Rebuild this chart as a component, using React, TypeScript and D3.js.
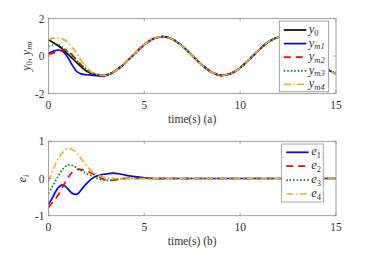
import React from 'react';
import * as d3 from 'd3';

// time samples: 0.25 s steps through the transient, 0.5 s steps after
const tHead = [0, 0.25, 0.5, 0.75, 1, 1.25, 1.5, 1.75, 2, 2.25, 2.5, 2.75, 3, 3.25, 3.5, 3.75, 4];
const tTail = [4.5, 5, 5.5, 6, 6.5, 7, 7.5, 8, 8.5, 9, 9.5, 10, 10.5, 11, 11.5, 12, 12.5, 13, 13.5, 14, 14.5, 15];

// (a) outputs
const y0Head = [0.87, 0.72, 0.56, 0.35, 0.12, -0.13, -0.38, -0.62, -0.82, -0.94, -1.0, -1.03, -1.02, -0.93, -0.79, -0.6, -0.38];
const ym1Head = [0.15, 0.25, 0.32, 0.25, -0.05, -0.5, -0.85, -0.97, -1.0, -1.02, -1.05, -1.06, -1.03, -0.94, -0.79, -0.6, -0.38];
const ym2Head = [0.1, 0.15, 0.22, 0.3, 0.3, 0.05, -0.25, -0.52, -0.75, -0.9, -0.98, -1.03, -1.03, -0.93, -0.79, -0.6, -0.38];
const ym3Head = [0.5, 0.6, 0.6, 0.45, 0.25, 0.02, -0.25, -0.5, -0.72, -0.88, -0.97, -1.02, -1.02, -0.93, -0.79, -0.6, -0.38];
const ym4Head = [0.87, 0.95, 0.97, 0.9, 0.75, 0.45, 0.1, -0.3, -0.62, -0.85, -0.97, -1.02, -1.02, -0.93, -0.79, -0.6, -0.38];
const yTail = [0.12, 0.6, 0.93, 1.03, 0.88, 0.51, 0.02, -0.47, -0.85, -1.03, -0.94, -0.63, -0.16, 0.34, 0.77, 1.0, 1.0, 0.73, 0.3, -0.2, -0.66, -0.96];

// (b) errors
const e1Head = [-0.7, -0.48, -0.25, -0.17, -0.27, -0.4, -0.42, -0.28, -0.13, -0.01, 0.06, 0.1, 0.12, 0.14, 0.14, 0.12, 0.09];
const e2Head = [-0.78, -0.62, -0.45, -0.22, 0.0, 0.17, 0.24, 0.24, 0.2, 0.14, 0.07, 0.01, -0.04, -0.05, -0.04, -0.01, 0.0];
const e3Head = [-0.4, -0.18, 0.05, 0.25, 0.36, 0.35, 0.28, 0.2, 0.13, 0.07, 0.01, -0.03, -0.05, -0.05, -0.03, -0.01, 0.0];
const e4Head = [-0.08, 0.25, 0.52, 0.7, 0.8, 0.78, 0.68, 0.5, 0.34, 0.2, 0.11, 0.05, 0.02, 0.0, 0.0, 0.0, 0.0];
const e1Tail = [0.05, 0.02, 0.0, 0, 0, 0, 0, 0, 0, 0, 0, 0, 0, 0, 0, 0, 0, 0, 0, 0, 0, 0];
const eTail = [0, 0, 0, 0, 0, 0, 0, 0, 0, 0, 0, 0, 0, 0, 0, 0, 0, 0, 0, 0, 0, 0];

const xTicks = [0, 5, 10, 15];
const yTicksA = [-2, 0, 2];
const yTicksB = [-1, 0, 1];

const times = [...tHead, ...tTail];

type Series = { name: string; sub: string; values: number[]; color: string; dash: string };

const seriesA: Series[] = [
  { name: 'y', sub: '0', values: [...y0Head, ...yTail], color: '#000000', dash: '' },
  { name: 'y', sub: 'm1', values: [...ym1Head, ...yTail], color: '#0000ff', dash: '' },
  { name: 'y', sub: 'm2', values: [...ym2Head, ...yTail], color: '#ff0000', dash: '7,5' },
  { name: 'y', sub: 'm3', values: [...ym3Head, ...yTail], color: '#008000', dash: '1.5,2' },
  { name: 'y', sub: 'm4', values: [...ym4Head, ...yTail], color: '#EDB120', dash: '7,2.5,1.5,2.5' },
];

const seriesB: Series[] = [
  { name: 'e', sub: '1', values: [...e1Head, ...e1Tail], color: '#0000ff', dash: '' },
  { name: 'e', sub: '2', values: [...e2Head, ...eTail], color: '#ff0000', dash: '7,5' },
  { name: 'e', sub: '3', values: [...e3Head, ...eTail], color: '#008000', dash: '1.5,2' },
  { name: 'e', sub: '4', values: [...e4Head, ...eTail], color: '#EDB120', dash: '7,2.5,1.5,2.5' },
];

const FONT = "'Liberation Serif', serif";
const left = 48.4;
const right = 336;

const Panel = ({ id, top, bottom, yDomain, yTicks, series, xlabel, ylabel, ylabelX, legend }: any) => {
  const x = d3.scaleLinear().domain([0, 15]).range([left, right]);
  const y = d3.scaleLinear().domain(yDomain).range([bottom, top]);
  const line = d3.line<number>()
    .x((_, i) => x(times[i]))
    .y(d => y(d))
    .curve(d3.curveCatmullRom);

  const lg = legend;
  return (
    <g>
      <defs>
        <clipPath id={id}>
          <rect x={left} y={top} width={right - left} height={bottom - top} />
        </clipPath>
      </defs>
      <rect x={left} y={top} width={right - left} height={bottom - top} fill="#fff" />
      <g clipPath={`url(#${id})`}>
        {series.map((s: Series) => (
          <path key={s.sub} d={line(s.values) || ''} fill="none" stroke={s.color}
            strokeWidth={1.7} strokeDasharray={s.dash || undefined} />
        ))}
      </g>
      <rect x={left} y={top} width={right - left} height={bottom - top} fill="none" stroke="#8c8c8c" strokeWidth={0.8} />
      {xTicks.map(t => (
        <g key={'x' + t}>
          <line x1={x(t)} x2={x(t)} y1={bottom} y2={bottom - 3} stroke="#8c8c8c" strokeWidth={0.8} />
          <line x1={x(t)} x2={x(t)} y1={top} y2={top + 3} stroke="#8c8c8c" strokeWidth={0.8} />
          <text x={x(t)} y={bottom + 15.5} textAnchor="middle" fontSize={11.5} fill="#333">{t}</text>
        </g>
      ))}
      {yTicks.map((t: number) => (
        <g key={'y' + t}>
          <line x1={left} x2={left + 3} y1={y(t)} y2={y(t)} stroke="#8c8c8c" strokeWidth={0.8} />
          <line x1={right} x2={right - 3} y1={y(t)} y2={y(t)} stroke="#8c8c8c" strokeWidth={0.8} />
          <text x={left - 4} y={y(t) + 4} textAnchor="end" fontSize={11.5} fill="#333">{t < 0 ? '-' + Math.abs(t) : t}</text>
        </g>
      ))}
      <text x={(left + right) / 2} y={bottom + 29} textAnchor="middle" fontSize={11.5} fill="#333">{xlabel}</text>
      <g transform={`translate(${ylabelX},${(top + bottom) / 2}) rotate(-90)`}>
        <text textAnchor="middle" fontSize={12} fill="#333">{ylabel}</text>
      </g>
      <rect x={lg.x} y={lg.y} width={lg.w} height={lg.h} fill="#fff" stroke="#8c8c8c" strokeWidth={0.8} />
      {series.map((s: Series, i: number) => {
        const cy = lg.y + lg.first + i * lg.step;
        return (
          <g key={'l' + s.sub}>
            <line x1={lg.x + 4.5} x2={lg.x + 27} y1={cy} y2={cy} stroke={s.color} strokeWidth={1.7}
              strokeDasharray={s.dash || undefined} />
            <text x={lg.x + 29.5} y={cy + 3} fontSize={12.5} fill="#333">
              <tspan fontStyle="italic">{s.name}</tspan>
              <tspan fontSize={8.5} dy={2.5} fontStyle={s.sub[0] === 'm' ? 'italic' : 'normal'}>{s.sub}</tspan>
            </text>
          </g>
        );
      })}
    </g>
  );
};

export default function App() {
  return (
    <svg width={372} height={257} style={{ position: 'absolute', left: 0, top: 0, fontFamily: FONT }}>
      <rect width={372} height={257} fill="#fff" />
      <Panel id="clipA" top={18.5} bottom={93.5} yDomain={[-2, 2]} yTicks={yTicksA} series={seriesA}
        xlabel="time(s)  (a)" ylabelX={29.5}
        ylabel={<>
          <tspan fontStyle="italic">y</tspan><tspan fontSize={8.5} dy={2.5}>0</tspan>
          <tspan dy={-2.5}>, </tspan>
          <tspan fontStyle="italic">y</tspan><tspan fontSize={8.5} dy={2.5} fontStyle="italic">mi</tspan>
        </>}
        legend={{ x: 279.3, y: 21, w: 49.4, h: 70.7, first: 9, step: 13.6 }} />
      <Panel id="clipB" top={141.3} bottom={215.7} yDomain={[-1, 1]} yTicks={yTicksB} series={seriesB}
        xlabel="time(s)  (b)" ylabelX={26}
        ylabel={<>
          <tspan fontStyle="italic">e</tspan><tspan fontSize={8.5} dy={2.5} fontStyle="italic">i</tspan>
        </>}
        legend={{ x: 281.7, y: 144, w: 41.6, h: 58, first: 8.3, step: 13.9 }} />
    </svg>
  );
}
